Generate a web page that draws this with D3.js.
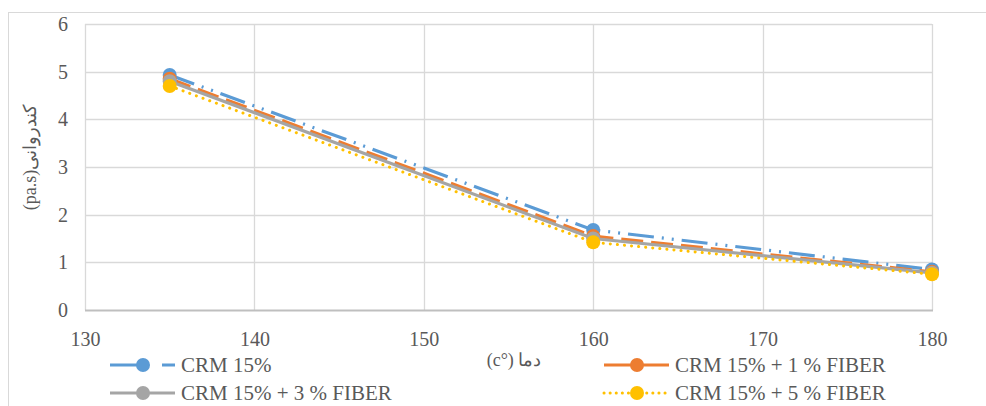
<!DOCTYPE html>
<html>
<head>
<meta charset="utf-8">
<script src="https://cdn.jsdelivr.net/npm/d3@7"></script>
<style>
  body { margin: 0; background: #fff; }
  text { font-family: "Liberation Serif", "Tinos", "Times New Roman", "DejaVu Serif", serif; fill: #595959; }
</style>
</head>
<body>
<svg id="chart" width="986" height="406"></svg>
<script>
// data
var temps = [135, 160, 180];
var crm15 = [4.93, 1.68, 0.85];
var fiber1 = [4.85, 1.55, 0.80];
var fiber3 = [4.80, 1.50, 0.78];
var fiber5 = [4.70, 1.42, 0.75];
var seriesNames = ["CRM 15%", "CRM 15% + 1 % FIBER", "CRM 15% + 3 % FIBER", "CRM 15% + 5 % FIBER"];
var xTicks = [130, 140, 150, 160, 170, 180];
var yTicks = [0, 1, 2, 3, 4, 5, 6];

var svg = d3.select("#chart");

// outer chart frame
svg.append("rect")
    .attr("x", 8.5).attr("y", 12.5)
    .attr("width", 990).attr("height", 400)
    .attr("fill", "none").attr("stroke", "#d9d9d9");

var x = d3.scaleLinear().domain([130, 180]).range([85, 932]);
var y = d3.scaleLinear().domain([0, 6]).range([310, 24]);

// gridlines
svg.append("g").selectAll("line").data(yTicks.slice(1)).enter().append("line")
    .attr("x1", x(130)).attr("x2", x(180))
    .attr("y1", function (d) { return Math.round(y(d)) + 0.5; })
    .attr("y2", function (d) { return Math.round(y(d)) + 0.5; })
    .attr("stroke", "#d9d9d9").attr("stroke-width", 1.3);
svg.append("g").selectAll("line").data(xTicks).enter().append("line")
    .attr("x1", function (d) { return Math.round(x(d)) + 0.5; })
    .attr("x2", function (d) { return Math.round(x(d)) + 0.5; })
    .attr("y1", y(6)).attr("y2", y(0))
    .attr("stroke", "#d9d9d9").attr("stroke-width", 1.3);

// x axis line
svg.append("line")
    .attr("x1", x(130)).attr("x2", x(180) + 1)
    .attr("y1", y(0) + 0.5).attr("y2", y(0) + 0.5)
    .attr("stroke", "#bfbfbf").attr("stroke-width", 2);

// tick labels
var xAxis = svg.append("g")
    .attr("transform", "translate(0," + (y(0) + 22) + ")")
    .call(d3.axisBottom(x).tickValues(xTicks).tickSize(0).tickPadding(0));
xAxis.select(".domain").remove();
xAxis.selectAll("text").attr("font-size", 20).attr("fill", "#595959");

var yAxis = svg.append("g")
    .attr("transform", "translate(68,0)")
    .call(d3.axisLeft(y).tickValues(yTicks).tickFormat(d3.format("d")).tickSize(0).tickPadding(0));
yAxis.select(".domain").remove();
yAxis.selectAll("text").attr("font-size", 20).attr("fill", "#595959");

// axis titles
svg.append("text")
    .attr("x", 514).attr("y", 366)
    .attr("text-anchor", "middle")
    .attr("font-size", 18)
    .text("(c°) دما");

svg.append("text")
    .attr("transform", "translate(36,157) rotate(-90)")
    .attr("text-anchor", "middle")
    .attr("font-size", 18)
    .text("(pa.s)کندروانی");

var styles = [
    { color: "#5b9bd5", dash: "26,8,2,8,2,8", width: 3.2, cap: "butt" },
    { color: "#ed7d31", dash: "22,8", width: 3.2, cap: "butt" },
    { color: "#a5a5a5", dash: null, width: 3.2, cap: "butt" },
    { color: "#ffc000", dash: "0.1,7", width: 3, cap: "round" }
];
var allValues = [crm15, fiber1, fiber3, fiber5];

var line = d3.line()
    .x(function (d) { return x(d[0]); })
    .y(function (d) { return y(d[1]); });

allValues.forEach(function (vals, i) {
    var pts = temps.map(function (t, j) { return [t, vals[j]]; });
    var st = styles[i];
    var g = svg.append("g");
    g.append("path")
        .attr("d", line(pts))
        .attr("fill", "none")
        .attr("stroke", st.color)
        .attr("stroke-width", st.width)
        .attr("stroke-linecap", st.cap)
        .attr("stroke-dasharray", st.dash);
    g.selectAll("circle").data(pts).enter().append("circle")
        .attr("cx", function (d) { return x(d[0]); })
        .attr("cy", function (d) { return y(d[1]); })
        .attr("r", 7)
        .attr("fill", st.color);
});

// legend
var legendPos = [
    { lx: 110, ly: 365 },
    { lx: 604, ly: 365 },
    { lx: 110, ly: 393 },
    { lx: 604, ly: 393 }
];
var legendDash = ["30,6,2,14", "100", null, "0.1,6"];
seriesNames.forEach(function (name, i) {
    var p = legendPos[i];
    var st = styles[i];
    var g = svg.append("g");
    g.append("line")
        .attr("x1", p.lx).attr("x2", p.lx + 65)
        .attr("y1", p.ly).attr("y2", p.ly)
        .attr("stroke", st.color)
        .attr("stroke-width", st.width)
        .attr("stroke-linecap", st.cap)
        .attr("stroke-dasharray", legendDash[i]);
    g.append("circle")
        .attr("cx", p.lx + 33).attr("cy", p.ly)
        .attr("r", 7).attr("fill", st.color);
    g.append("text")
        .attr("x", p.lx + 71).attr("y", p.ly + 7)
        .attr("font-size", 21)
        .text(name);
});
</script>
</body>
</html>
